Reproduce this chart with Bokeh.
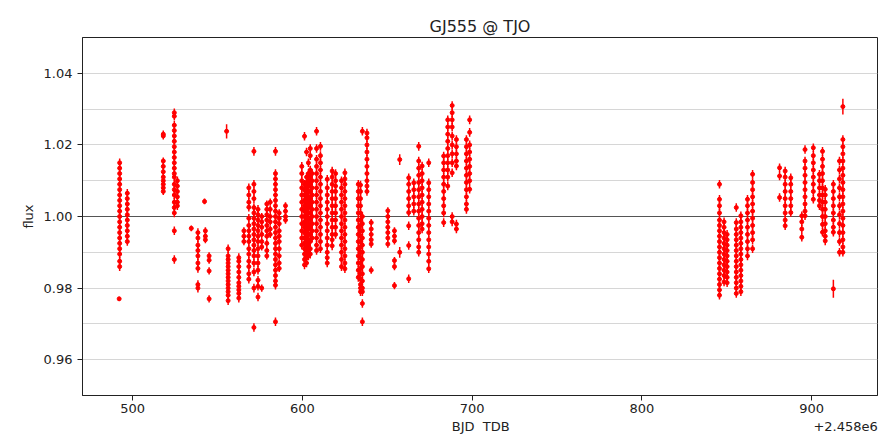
from bokeh.plotting import figure
from bokeh.models import Range1d, FixedTicker, Span, LinearAxis, PrintfTickFormatter, ColumnDataSource
from bokeh.embed import file_html
from bokeh.resources import INLINE

# ---- data (BJD_TDB - 2458000, relative flux) ----
night_bjd = [
    492.3, 492.0, 496.8, 518.0, 524.5, 526.3, 534.5, 538.4, 542.3, 542.8, 545.0,
    556.2, 555.3, 562.5, 565.5, 568.4, 571.4, 573.8, 576.0, 579.0, 581.0,
    584.1, 586.3, 590.0, 599.6, 601.2, 602.4, 603.5, 604.6, 605.7, 608.3, 610.6,
    614.6, 617.5, 619.5, 623.0, 625.0, 632.9, 634.2, 635.3, 638.0, 640.5,
    650.3, 654.2, 657.3, 662.6, 665.6, 668.5, 670.5, 674.4, 683.2, 685.6, 688.2,
    690.7, 696.6, 698.5,
    845.7, 848.4, 850.2, 855.6, 858.3, 862.2, 865.2, 881.1, 884.4, 887.7, 894.2,
    896.1, 901.0, 904.6, 906.4, 908.0, 912.8, 912.8, 916.4, 918.4, 918.4,
]
night_err = [
    0.0012, 0.0006, 0.0012, 0.0010, 0.0012, 0.0012, 0.0008, 0.0012, 0.0008, 0.0010, 0.0010,
    0.0012, 0.0020, 0.0012, 0.0010, 0.0012, 0.0012, 0.0012, 0.0010, 0.0010, 0.0010,
    0.0012, 0.0010, 0.0010, 0.0012, 0.0012, 0.0012, 0.0012, 0.0012, 0.0012, 0.0012, 0.0012,
    0.0012, 0.0012, 0.0012, 0.0012, 0.0012, 0.0012, 0.0012, 0.0012, 0.0012, 0.0010,
    0.0010, 0.0010, 0.0015, 0.0012, 0.0012, 0.0012, 0.0012, 0.0012, 0.0012, 0.0012, 0.0012,
    0.0012, 0.0012, 0.0012,
    0.0012, 0.0012, 0.0012, 0.0012, 0.0012, 0.0012, 0.0012, 0.0012, 0.0012, 0.0012, 0.0012,
    0.0012, 0.0012, 0.0012, 0.0012, 0.0012, 0.0012, 0.0025, 0.0012, 0.0012, 0.0022,
]
night_flux = [
    [1.0150, 1.0135, 1.0120, 1.0105, 1.0090, 1.0075, 1.0060, 1.0045, 1.0030, 1.0015, 1.0000,
     0.9985, 0.9970, 0.9955, 0.9940, 0.9925, 0.9910, 0.9895, 0.9875, 0.9860],
    [0.9770],
    [1.0065, 1.0050, 1.0035, 1.0020, 1.0005, 0.9990, 0.9975, 0.9960, 0.9945, 0.9930],
    [1.0230, 1.0225, 1.0155, 1.0140, 1.0125, 1.0110, 1.0100, 1.0090, 1.0080, 1.0070],
    [1.0290, 1.0280, 1.0255, 1.0240, 1.0225, 1.0210, 1.0195, 1.0180, 1.0165, 1.0150, 1.0135,
     1.0120, 1.0110, 1.0090, 1.0075, 1.0060, 1.0040, 1.0025, 1.0010, 0.9960, 0.9880],
    [1.0100, 1.0085, 1.0070, 1.0055, 1.0040, 1.0030],
    [0.9967],
    [0.9955, 0.9940, 0.9920, 0.9905, 0.9890, 0.9870, 0.9855, 0.9810, 0.9800],
    [1.0042],
    [0.9960, 0.9945, 0.9935],
    [0.9890, 0.9878, 0.9848, 0.9770],
    [0.9910, 0.9890, 0.9880, 0.9870, 0.9860, 0.9850, 0.9840, 0.9830, 0.9820, 0.9810, 0.9800,
     0.9790, 0.9780, 0.9765],
    [1.0238],
    [0.9885, 0.9875, 0.9860, 0.9845, 0.9830, 0.9815, 0.9805, 0.9795, 0.9785, 0.9772],
    [0.9960, 0.9945, 0.9930],
    [1.0080, 1.0060, 1.0040, 1.0026, 0.9995, 0.9975, 0.9960, 0.9945, 0.9930, 0.9910, 0.9895,
     0.9875, 0.9860, 0.9840, 0.9825],
    [1.0182, 1.0090, 1.0070, 1.0050, 1.0025, 1.0010, 0.9995, 0.9980, 0.9965, 0.9950, 0.9935,
     0.9920, 0.9905, 0.9890, 0.9870, 0.9845, 0.9800, 0.9690],
    [1.0020, 1.0005, 0.9990, 0.9975, 0.9960, 0.9945, 0.9930, 0.9910, 0.9890, 0.9870, 0.9850,
     0.9822, 0.9805, 0.9775],
    [1.0000, 0.9985, 0.9970, 0.9950, 0.9930, 0.9915, 0.9800],
    [1.0035, 1.0020, 1.0005, 0.9990, 0.9975, 0.9960, 0.9945, 0.9925, 0.9905, 0.9890],
    [1.0040, 1.0020, 1.0000, 0.9985, 0.9965, 0.9950],
    [1.0182, 1.0120, 1.0105, 1.0090, 1.0075, 1.0060, 1.0045, 1.0030, 1.0015, 1.0000, 0.9985,
     0.9970, 0.9955, 0.9940, 0.9925, 0.9910, 0.9895, 0.9880, 0.9865, 0.9850, 0.9835, 0.9820,
     0.9808, 0.9706],
    [1.0010, 0.9995, 0.9980, 0.9960, 0.9945, 0.9930, 0.9910, 0.9890, 0.9870, 0.9855],
    [1.0030, 1.0015, 1.0000, 0.9990],
    [1.0140, 1.0120, 1.0100, 1.0080, 1.0060, 1.0040, 1.0020, 1.0000, 0.9980, 0.9960, 0.9940,
     0.9920],
    [1.0224, 1.0090, 1.0075, 1.0060, 1.0045, 1.0030, 1.0015, 1.0000, 0.9985, 0.9970, 0.9955,
     0.9940, 0.9925, 0.9910, 0.9895, 0.9880, 0.9865],
    [1.0180, 1.0110, 1.0095, 1.0080, 1.0065, 1.0050, 1.0035, 1.0020, 1.0005, 0.9990, 0.9975,
     0.9960, 0.9945, 0.9930, 0.9915, 0.9900, 0.9885, 0.9870],
    [1.0150, 1.0120, 1.0100, 1.0085, 1.0070, 1.0055, 1.0040, 1.0025, 1.0010, 0.9995, 0.9980,
     0.9965, 0.9950, 0.9935, 0.9920, 0.9905, 0.9890],
    [1.0190, 1.0170, 1.0130, 1.0110, 1.0090, 1.0070, 1.0050, 1.0030, 1.0010, 0.9990, 0.9970,
     0.9950, 0.9930, 0.9910, 0.9895],
    [1.0120, 1.0100, 1.0080, 1.0060, 1.0040, 1.0020, 1.0000, 0.9980, 0.9960, 0.9940],
    [1.0238, 1.0190, 1.0160, 1.0140, 1.0120, 1.0100, 1.0080, 1.0060, 1.0040, 1.0020, 1.0000,
     0.9980, 0.9960, 0.9940, 0.9920, 0.9905],
    [1.0196, 1.0170, 1.0150, 1.0130, 1.0110, 1.0090, 1.0070, 1.0050, 1.0030, 1.0010, 0.9990,
     0.9970, 0.9950, 0.9930, 0.9910],
    [1.0104, 1.0080, 1.0060, 1.0040, 1.0020, 1.0000, 0.9980, 0.9960, 0.9940, 0.9920, 0.9900,
     0.9885, 0.9870],
    [1.0127, 1.0110, 1.0090, 1.0070, 1.0050, 1.0030, 1.0010, 0.9990, 0.9970, 0.9950, 0.9935,
     0.9918],
    [1.0120, 1.0100, 1.0085, 1.0070, 1.0050, 1.0030, 1.0010, 0.9990, 0.9970, 0.9950],
    [1.0100, 1.0080, 1.0060, 1.0040, 1.0020, 1.0000, 0.9980, 0.9960, 0.9940, 0.9920, 0.9900,
     0.9880, 0.9860],
    [1.0122, 1.0105, 1.0090, 1.0070, 1.0050, 1.0030, 1.0010, 0.9990, 0.9970, 0.9950, 0.9930,
     0.9910, 0.9890, 0.9870, 0.9854],
    [1.0090, 1.0070, 1.0050, 1.0030, 1.0010, 0.9990, 0.9970, 0.9950, 0.9930, 0.9910, 0.9890,
     0.9870, 0.9850, 0.9830],
    [1.0088, 1.0070, 1.0050, 1.0030, 1.0010, 0.9990, 0.9975, 0.9960, 0.9945, 0.9930, 0.9915,
     0.9900, 0.9885, 0.9870, 0.9855, 0.9840, 0.9825, 0.9810, 0.9800, 0.9790],
    [1.0238, 1.0000, 0.9980, 0.9960, 0.9940, 0.9920, 0.9900, 0.9880, 0.9860, 0.9840, 0.9820,
     0.9800, 0.9790, 0.9757, 0.9706],
    [1.0233, 1.0220, 1.0200, 1.0180, 1.0160, 1.0140, 1.0120, 1.0100, 1.0085, 1.0070],
    [0.9983, 0.9965, 0.9950, 0.9935, 0.9923, 0.9850],
    [1.0016, 1.0000, 0.9985, 0.9970, 0.9955, 0.9940, 0.9923],
    [0.9960, 0.9945, 0.9932, 0.9877, 0.9860, 0.9807],
    [1.0159, 0.9900],
    [1.0108, 1.0090, 1.0070, 1.0050, 1.0030, 1.0011, 0.9974, 0.9919, 0.9826],
    [1.0094, 1.0075, 1.0055, 1.0035, 1.0015],
    [1.0196, 1.0155, 1.0135, 1.0115, 1.0095, 1.0075, 1.0055, 1.0035, 1.0015, 0.9995, 0.9975,
     0.9955, 0.9935, 0.9915, 0.9900],
    [1.0141, 1.0120, 1.0100, 1.0080, 1.0060, 1.0040, 1.0020, 1.0000, 0.9980, 0.9965],
    [1.0150, 1.0094, 1.0075, 1.0055, 1.0035, 1.0015, 0.9995, 0.9975, 0.9955, 0.9935, 0.9915,
     0.9895, 0.9875, 0.9854],
    [1.0169, 1.0150, 1.0130, 1.0110, 1.0090, 1.0070, 1.0050, 1.0030, 1.0010, 0.9983],
    [1.0270, 1.0250, 1.0230, 1.0210, 1.0190, 1.0170, 1.0150, 1.0130, 1.0110, 1.0085],
    [1.0310, 1.0290, 1.0270, 1.0250, 1.0225, 1.0200, 1.0175, 1.0150, 1.0122, 1.0000, 0.9985],
    [1.0215, 1.0195, 1.0175, 1.0155, 1.0141, 0.9979, 0.9965],
    [1.0215, 1.0195, 1.0175, 1.0155, 1.0135, 1.0115, 1.0095, 1.0075, 1.0055, 1.0035, 1.0020],
    [1.0270, 1.0235, 1.0200, 1.0180, 1.0160, 1.0140, 1.0120, 1.0100, 1.0076],
    [1.0090, 1.0048, 1.0030, 1.0010, 0.9990, 0.9975, 0.9960, 0.9945, 0.9930, 0.9915, 0.9900,
     0.9885, 0.9870, 0.9855, 0.9840, 0.9825, 0.9810, 0.9795, 0.9780],
    [0.9985, 0.9970, 0.9955, 0.9940, 0.9925, 0.9910, 0.9895, 0.9880, 0.9865, 0.9850, 0.9835,
     0.9817],
    [0.9950, 0.9935, 0.9920, 0.9905, 0.9890, 0.9875, 0.9860, 0.9845, 0.9830, 0.9815],
    [1.0025, 0.9983, 0.9965, 0.9950, 0.9935, 0.9920, 0.9905, 0.9890, 0.9875, 0.9860, 0.9845,
     0.9830, 0.9815, 0.9800, 0.9785],
    [1.0002, 0.9985, 0.9970, 0.9955, 0.9940, 0.9925, 0.9910, 0.9895, 0.9880, 0.9865, 0.9850,
     0.9835, 0.9820, 0.9805, 0.9790],
    [1.0048, 1.0030, 1.0010, 0.9990, 0.9970, 0.9950, 0.9930, 0.9910, 0.9890],
    [1.0118, 1.0095, 1.0075, 1.0055, 1.0035, 1.0015, 0.9995, 0.9975, 0.9955, 0.9935, 0.9910],
    [1.0136, 1.0113, 1.0053],
    [1.0127, 1.0110, 1.0090, 1.0070, 1.0050, 1.0030, 1.0010, 0.9990, 0.9974],
    [1.0108, 1.0090, 1.0070, 1.0050, 1.0030, 1.0011],
    [1.0002, 0.9985, 0.9965, 0.9942],
    [1.0187, 1.0155, 1.0135, 1.0115, 1.0095, 1.0075, 1.0055, 1.0035, 1.0015, 1.0002],
    [1.0192, 1.0170, 1.0150, 1.0130, 1.0110, 1.0090, 1.0070, 1.0048],
    [1.0118, 1.0100, 1.0080, 1.0060, 1.0045, 1.0030],
    [1.0182, 1.0160, 1.0140, 1.0120, 1.0100, 1.0080, 1.0060, 1.0040, 1.0020, 1.0000, 0.9978,
     0.9956],
    [1.0076, 1.0060, 1.0040, 1.0020, 1.0000, 0.9980, 0.9960, 0.9945, 0.9932],
    [1.0090, 1.0070, 1.0050, 1.0030, 1.0010, 0.9990, 0.9970, 0.9956],
    [0.9798],
    [1.0155, 1.0130, 1.0105, 1.0080, 1.0055, 1.0030, 1.0005, 0.9980, 0.9955, 0.9930, 0.9900],
    [1.0215, 1.0195, 1.0175, 1.0155, 1.0135, 1.0115, 1.0095, 1.0075, 1.0055, 1.0035, 1.0015,
     0.9995, 0.9975, 0.9955, 0.9935, 0.9915, 0.9900],
    [1.0307],
]

y_ticks = [0.96, 0.98, 1.00, 1.02, 1.04]
y_grid = [0.96, 0.97, 0.98, 0.99, 1.00, 1.01, 1.02, 1.03, 1.04]
x_ticks = [500, 600, 700, 800, 900]
title_text = "GJ555 @ TJO"
x_label = "BJD\u00a0\u00a0TDB"
x_offset_text = "+2.458e6"
y_label = "flux"

# ---- flatten ----
xs, ys, lo, hi = [], [], [], []
for b, e, fl in zip(night_bjd, night_err, night_flux):
    for f in fl:
        xs.append(b)
        ys.append(f)
        lo.append(f - e)
        hi.append(f + e)
src = ColumnDataSource(dict(x=xs, y=ys, lo=lo, hi=hi))

X0, X1 = 470.4, 938.8
Y0, Y1 = 0.95, 1.05
FONT = "DejaVu Sans"
INK = "#222222"

p = figure(width=880, height=436, output_backend="svg", toolbar_location=None,
           x_range=Range1d(X0, X1), y_range=Range1d(Y0, Y1),
           min_border_left=82, min_border_right=3, min_border_top=37, min_border_bottom=39)
p.background_fill_color = "white"
p.border_fill_color = "white"
p.outline_line_color = INK
p.outline_line_width = 1

p.title.text = title_text
p.title.align = "center"
p.title.text_font = FONT
p.title.text_font_size = "16px"
p.title.text_font_style = "normal"
p.title.text_color = INK
p.title.standoff = 4

p.xgrid.visible = False
p.ygrid.ticker = FixedTicker(ticks=y_grid)
p.ygrid.grid_line_color = "#d6d6d6"
p.ygrid.grid_line_width = 1

for ax in (p.xaxis[0], p.yaxis[0]):
    ax.axis_line_color = INK
    ax.major_tick_line_color = INK
    ax.major_tick_out = 5
    ax.major_tick_in = 0
    ax.minor_tick_out = 0
    ax.minor_tick_in = 0
    ax.major_label_text_font = FONT
    ax.major_label_text_font_size = "13px"
    ax.major_label_text_color = INK

p.xaxis.ticker = FixedTicker(ticks=x_ticks)
p.yaxis.ticker = FixedTicker(ticks=y_ticks)
p.yaxis.formatter = PrintfTickFormatter(format="%.2f")
p.xaxis.major_label_standoff = 3
p.yaxis.major_label_standoff = 5

p.yaxis.axis_label = y_label
p.yaxis.axis_label_text_font = FONT
p.yaxis.axis_label_text_font_size = "13px"
p.yaxis.axis_label_text_font_style = "normal"
p.yaxis.axis_label_text_color = INK
p.yaxis.axis_label_standoff = 5

# second row under the x axis: axis label (centred) and the offset text (right)
label_axis = LinearAxis(ticker=FixedTicker(ticks=[705, 920]),
                        major_label_overrides={705: x_label, 920: x_offset_text},
                        axis_line_color=None, major_tick_line_color=None,
                        minor_tick_line_color=None, major_tick_out=0, major_tick_in=0,
                        minor_tick_out=0, minor_tick_in=0, major_label_standoff=3,
                        major_label_text_font=FONT, major_label_text_font_size="13px",
                        major_label_text_color=INK)
p.add_layout(label_axis, "below")

p.add_layout(Span(location=1.0, dimension="width", line_color="#555555",
                  line_width=1, level="underlay"))

p.segment(x0="x", y0="lo", x1="x", y1="hi", source=src, line_color="#ff0000", line_width=1.5)
p.scatter("x", "y", source=src, size=4, marker="circle", fill_color="#ff0000",
          line_color="#ff0000")

open("out.html", "w").write(file_html(p, INLINE))
